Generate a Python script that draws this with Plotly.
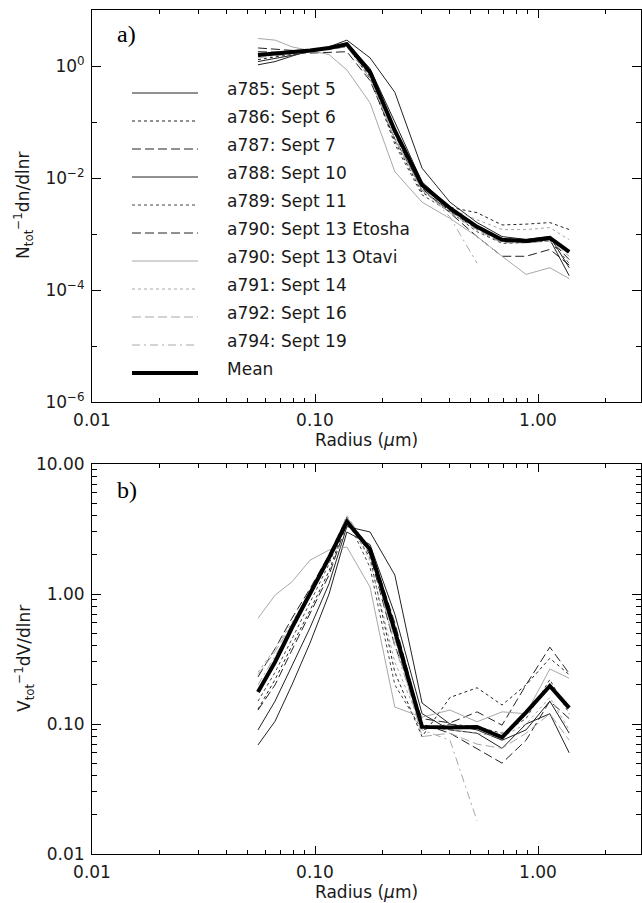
import plotly.graph_objects as go

# ---------------- data ----------------
radius = [0.0555, 0.0662, 0.0788, 0.095, 0.1156, 0.139, 0.1765, 0.228,
          0.302, 0.403, 0.533, 0.69, 0.884, 1.13, 1.38]

labels = ["a785: Sept 5", "a786: Sept 6", "a787: Sept 7", "a788: Sept 10",
          "a789: Sept 11", "a790: Sept 13 Etosha", "a790: Sept 13 Otavi",
          "a791: Sept 14", "a792: Sept 16", "a794: Sept 19", "Mean"]

# number distributions  N_tot^-1 dn/dlnr
n_a785 = [1.05, 1.2, 1.5, 1.9, 2.2, 2.9, 1.4, 0.34, 0.015, 0.0037, 0.0016, 0.0009, 0.0008, 0.0009, 0.00025]
n_a786 = [1.3, 1.45, 1.6, 1.8, 2.0, 2.3, 0.6, 0.045, 0.0055, 0.003, 0.0024, 0.00145, 0.0015, 0.0016, 0.0012]
n_a787 = [2.1, 2.0, 1.9, 1.9, 2.0, 2.2, 0.7, 0.06, 0.006, 0.0026, 0.0012, 0.0007, 0.00072, 0.0008, 0.00035]
n_a788 = [1.2, 1.35, 1.55, 1.8, 2.1, 2.6, 0.9, 0.1, 0.0085, 0.003, 0.0014, 0.00078, 0.0007, 0.0008, 0.00018]
n_a789 = [1.5, 1.6, 1.7, 1.85, 2.1, 2.4, 0.65, 0.04, 0.005, 0.0025, 0.0011, 0.00068, 0.0007, 0.00075, 0.0003]
n_a790e = [1.8, 1.75, 1.7, 1.7, 1.75, 1.8, 0.55, 0.05, 0.0065, 0.0024, 0.0009, 0.0004, 0.0004, 0.00053, 0.00028]
n_a790o = [3.1, 2.9, 2.2, 1.9, 1.6, 0.85, 0.22, 0.013, 0.0037, 0.0019, 0.0009, 0.0004, 0.00019, 0.00025, 0.00016]
n_a791 = [1.6, 1.7, 1.8, 1.9, 2.1, 2.5, 0.7, 0.05, 0.006, 0.0028, 0.0018, 0.0012, 0.0012, 0.0013, 0.00079]
n_a792 = [1.7, 1.75, 1.8, 1.9, 2.0, 2.2, 0.6, 0.05, 0.006, 0.0024, 0.0012, 0.0007, 0.0007, 0.00075, 0.0004]
n_a794 = [1.4, 1.5, 1.65, 1.8, 2.0, 2.3, 0.75, 0.07, 0.007, 0.002, 0.0003]
n_mean = [1.57, 1.65, 1.75, 1.9, 2.1, 2.45, 0.78, 0.07, 0.0075, 0.0029, 0.00134, 0.00079, 0.00075, 0.00085, 0.00048]

# volume distributions  V_tot^-1 dV/dlnr
v_a785 = [0.069, 0.105, 0.2, 0.42, 1.0, 3.0, 2.4, 0.7, 0.12, 0.09, 0.085, 0.065, 0.1, 0.12, 0.06]
v_a786 = [0.13, 0.22, 0.4, 0.75, 1.5, 3.7, 1.9, 0.25, 0.08, 0.16, 0.19, 0.14, 0.2, 0.32, 0.24]
v_a787 = [0.23, 0.38, 0.65, 1.1, 2.0, 3.9, 2.0, 0.4, 0.11, 0.102, 0.124, 0.098, 0.2, 0.39, 0.245]
v_a788 = [0.09, 0.15, 0.28, 0.55, 1.2, 3.3, 3.0, 1.4, 0.145, 0.1, 0.09, 0.075, 0.09, 0.15, 0.085]
v_a789 = [0.15, 0.25, 0.45, 0.85, 1.7, 3.8, 1.6, 0.2, 0.09, 0.1, 0.095, 0.085, 0.11, 0.22, 0.12]
v_a790e = [0.128, 0.2, 0.37, 0.7, 1.4, 3.5, 2.3, 0.6, 0.1, 0.085, 0.065, 0.05, 0.075, 0.15, 0.11]
v_a790o = [0.65, 0.98, 1.24, 1.82, 2.18, 2.3, 1.13, 0.135, 0.113, 0.128, 0.104, 0.124, 0.12, 0.265, 0.225]
v_a791 = [0.25, 0.38, 0.6, 1.05, 1.9, 4.0, 1.8, 0.3, 0.095, 0.09, 0.085, 0.08, 0.1, 0.16, 0.09]
v_a792 = [0.24, 0.36, 0.58, 1.0, 1.8, 3.9, 2.1, 0.45, 0.08, 0.085, 0.07, 0.065, 0.085, 0.12, 0.075]
v_a794 = [0.2, 0.33, 0.55, 1.0, 1.9, 4.0, 2.2, 0.4, 0.09, 0.075, 0.018]
v_mean = [0.176, 0.30, 0.55, 1.0, 1.9, 3.6, 2.2, 0.52, 0.095, 0.094, 0.095, 0.079, 0.123, 0.196, 0.133]

x_ticks = [0.01, 0.1, 1.0]
x_ticktext = ["0.01", "0.10", "1.00"]
n_ticks = [1e-6, 1e-4, 1e-2, 1.0]
n_ticktext = ["10<sup>−6</sup>", "10<sup>−4</sup>", "10<sup>−2</sup>", "10<sup>0</sup>"]
v_ticks = [0.01, 0.1, 1.0, 10.0]
v_ticktext = ["0.01", "0.10", "1.00", "10.00"]

# ---------------- styles ----------------
DARK = "#222222"
DGRAY = "#444444"
LGRAY = "#a8a8a8"
DOT = "3px,3px"
LDASH = "9px,4px"
DASHDOT = "8px,4px,2px,4px"
styles = [
    (DARK, "solid", 1.0),
    (DARK, DOT, 1.0),
    (DARK, LDASH, 1.0),
    (DARK, "solid", 1.0),
    (DGRAY, DOT, 1.0),
    (DARK, LDASH, 1.0),
    (LGRAY, "solid", 1.0),
    (LGRAY, DOT, 1.0),
    (LGRAY, LDASH, 1.0),
    (LGRAY, DASHDOT, 1.0),
    ("#000000", "solid", 4.0),
]
n_series = [n_a785, n_a786, n_a787, n_a788, n_a789, n_a790e, n_a790o, n_a791, n_a792, n_a794, n_mean]
v_series = [v_a785, v_a786, v_a787, v_a788, v_a789, v_a790e, v_a790o, v_a791, v_a792, v_a794, v_mean]

W, H = 642, 903
L, R, T, B = 92, 1, 10, 49
PW = W - L - R
PH = H - T - B


def px_x(px):
    return (px - L) / PW


def px_y(py):
    return (H - B - py) / PH


fig = go.Figure()
for lab, nv, vv, (c, d, w) in zip(labels, n_series, v_series, styles):
    fig.add_trace(go.Scatter(x=radius[:len(nv)], y=nv, mode="lines", name=lab,
                             line=dict(color=c, dash=d, width=w),
                             xaxis="x", yaxis="y", showlegend=False, hoverinfo="skip"))
    fig.add_trace(go.Scatter(x=radius[:len(vv)], y=vv, mode="lines", name=lab,
                             line=dict(color=c, dash=d, width=w),
                             xaxis="x2", yaxis="y2", showlegend=False, hoverinfo="skip"))

FONT = dict(family="DejaVu Sans", size=17, color="#1a1a1a")
minor_x = [m * 10 ** e for e in (-2, -1, 0) for m in range(2, 10) if m * 10 ** e < 2.95]
minor_v = [m * 10 ** e for e in (-2, -1, 0) for m in range(2, 10)]

xcommon = dict(type="log", range=[-2, -2 + PW / 223.0], showline=True, linecolor="black",
               linewidth=1, mirror="allticks", ticks="inside", ticklen=8, tickcolor="black",
               tickvals=x_ticks, ticktext=x_ticktext, tickfont=FONT, showgrid=False,
               zeroline=False, ticklabelstandoff=3,
               minor=dict(ticks="inside", ticklen=4, tickcolor="black", tickvals=minor_x,
                          showgrid=False))
ycommon = dict(type="log", showline=True, linecolor="black", linewidth=1, mirror="allticks",
               ticks="inside", ticklen=9, tickcolor="black", tickfont=FONT, showgrid=False,
               zeroline=False, ticklabelstandoff=3)

top_lo = px_y(402)
bot_hi = px_y(464)
fig.update_layout(
    width=W, height=H, margin=dict(l=L, r=R, t=T, b=B),
    paper_bgcolor="white", plot_bgcolor="white", showlegend=False,
    xaxis=dict(anchor="y", domain=[0, 1], **xcommon),
    yaxis=dict(anchor="x", domain=[top_lo, 1], range=[-6, 1], tickvals=n_ticks,
               ticktext=n_ticktext,
               minor=dict(ticks="inside", ticklen=5, tickcolor="black",
                          tickvals=[1e-5, 1e-3, 1e-1, 10], showgrid=False),
               **ycommon),
    xaxis2=dict(anchor="y2", domain=[0, 1], **xcommon),
    yaxis2=dict(anchor="x2", domain=[0, bot_hi], range=[-2, 1], tickvals=v_ticks,
                ticktext=v_ticktext,
                minor=dict(ticks="inside", ticklen=5, tickcolor="black", tickvals=minor_v,
                           showgrid=False),
                **ycommon),
)

ann = []
shapes = []
# axis titles
for yc in (440, 892):
    ann.append(dict(text="Radius (<i>μ</i>m)", x=0.5, y=px_y(yc), xref="paper", yref="paper",
                    xanchor="center", yanchor="middle", showarrow=False, font=FONT))
ann.append(dict(text="N<sub>tot</sub><sup>−1</sup>dn/dlnr", x=px_x(24), y=px_y(206),
                xref="paper", yref="paper", textangle=-90, xanchor="center",
                yanchor="middle", showarrow=False, font=FONT))
ann.append(dict(text="V<sub>tot</sub><sup>−1</sup>dV/dlnr", x=px_x(24), y=px_y(659),
                xref="paper", yref="paper", textangle=-90, xanchor="center",
                yanchor="middle", showarrow=False, font=FONT))
# panel labels
for txt, yc in (("a)", 34), ("b)", 490)):
    ann.append(dict(text=txt, x=px_x(115), y=px_y(yc), xref="paper", yref="paper",
                    xanchor="left", yanchor="middle", showarrow=False,
                    font=dict(family="Liberation Serif", size=24, color="black")))
# legend
for i, (lab, (c, d, w)) in enumerate(zip(labels, styles)):
    ly = 93 + i * 28.0
    shapes.append(dict(type="line", xref="paper", yref="paper", x0=px_x(132), x1=px_x(198),
                       y0=px_y(ly), y1=px_y(ly), line=dict(color=c, dash=d, width=w)))
    ann.append(dict(text=lab, x=px_x(225), y=px_y(ly - 4), xref="paper", yref="paper",
                    xanchor="left", yanchor="middle", showarrow=False, font=FONT))

fig.update_layout(annotations=ann, shapes=shapes)
fig.write_html("out.html")
